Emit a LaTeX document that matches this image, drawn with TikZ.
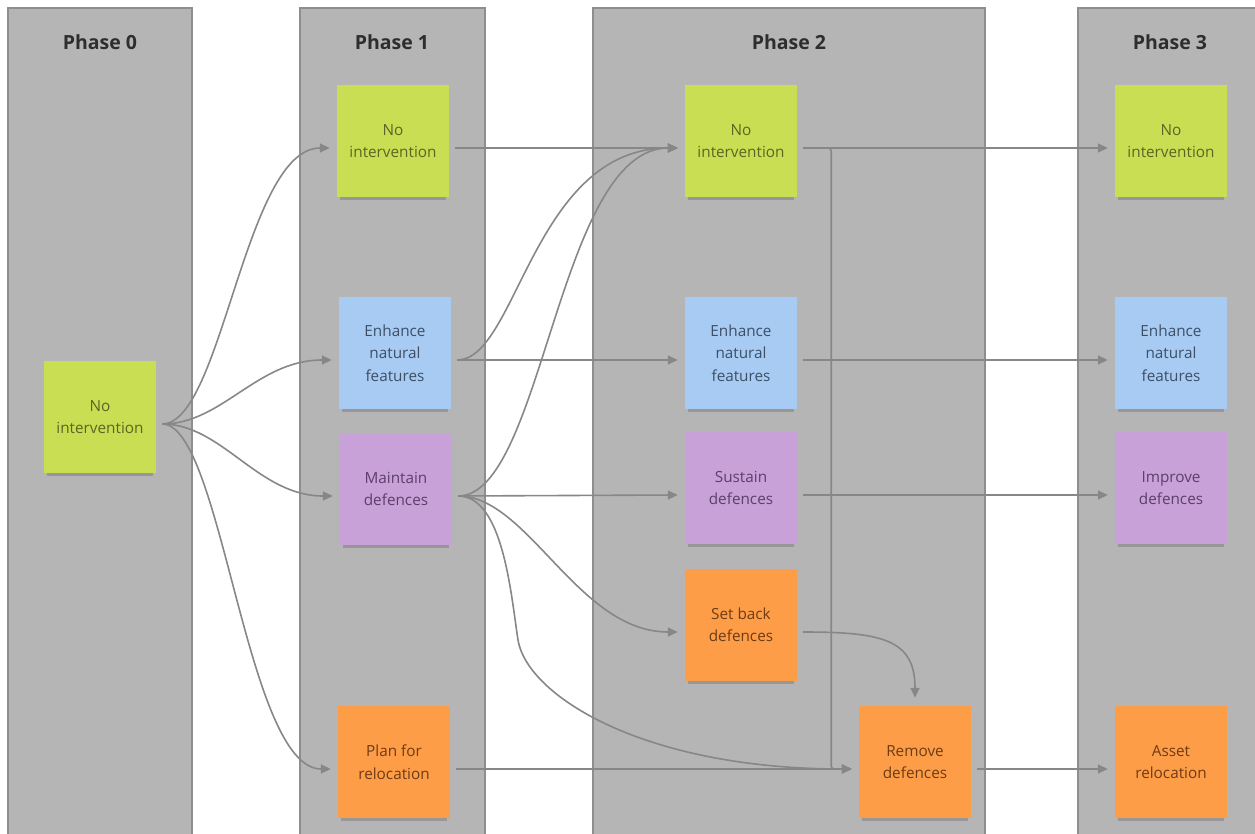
\documentclass[tikz,border=0pt]{standalone}
\usepackage{fontspec}
\setsansfont{Open Sans}
\usepackage{xcolor}
\usepackage{tikz}
\usetikzlibrary{positioning,calc,arrows.meta,shadows}

% Anclas de las flechas (un poco por debajo del centro de cada nota)
\newcommand{\srcpt}[1]{([xshift=6pt,yshift=-7pt]#1.east)}
\newcommand{\dstpt}[1]{([xshift=-7pt,yshift=-7pt]#1.west)}

\begin{document}
\begin{tikzpicture}[
    x=1pt, y=-1pt,
    font=\sffamily,
    phase/.style={draw=phaseline, fill=phasefill, line width=1.6pt},
    title/.style={font=\sffamily\bfseries\fontsize{19.5}{22}\selectfont, text=titletext},
    note/.style={rectangle, minimum width=112pt, minimum height=112pt, inner sep=0pt,
                 align=center, font=\sffamily\fontsize{15.3}{22.5}\selectfont,
                 drop shadow={shadow xshift=0pt, shadow yshift=-6pt,
                              shadow scale=0.95, opacity=0.16, fill=black}},
    gnote/.style={note, fill=notegreen, text=textgreen},
    bnote/.style={note, fill=noteblue, text=textblue},
    pnote/.style={note, fill=notepurple, text=textpurple},
    onote/.style={note, fill=noteorange, text=textorange},
    flow/.style={-{Triangle[length=10pt,width=9pt]}, line width=1.6pt, draw=flowline},
  ]
  \definecolor{phasefill}{HTML}{B5B5B5}
  \definecolor{phaseline}{HTML}{8E8E8E}
  \definecolor{titletext}{HTML}{2E2E2E}
  \definecolor{flowline}{HTML}{878787}
  \definecolor{notegreen}{HTML}{C9DE52}
  \definecolor{textgreen}{HTML}{5A6624}
  \definecolor{noteblue}{HTML}{A7CBF2}
  \definecolor{textblue}{HTML}{3E4F66}
  \definecolor{notepurple}{HTML}{C8A1D8}
  \definecolor{textpurple}{HTML}{5C3F6B}
  \definecolor{noteorange}{HTML}{FE9D48}
  \definecolor{textorange}{HTML}{6E3B14}

  \useasboundingbox (0,0) rectangle (1255,834);

  % ========================= COLUMNAS ========================
  \draw[phase] (8,8) rectangle (192,850);
  \draw[phase] (300,8) rectangle (485,850);
  \draw[phase] (593,8) rectangle (985,850);
  \draw[phase] (1078,8) rectangle (1275,850);
  \node[title] (t0) at (100,42) {Phase 0};
  \node[title] (t1) at (392,42) {Phase 1};
  \node[title] (t2) at (789,42) {Phase 2};
  \node[title] (t3) at (1170,42) {Phase 3};

  % ========================== FASE 0 =========================
  \node[gnote] (a0) at (100,417) {No\\intervention};

  % ========================== FASE 1 =========================
  \node[gnote] (n1) at (393,141) {No\\intervention};
  \node[bnote] (e1) at (395,353) {Enhance\\natural\\features};
  \node[pnote] (m1) at (396,489) {Maintain\\defences};
  \node[onote] (p1) at (394,762) {Plan for\\relocation};

  % ========================== FASE 2 =========================
  \node[gnote] (n2) at (741,141) {No\\intervention};
  \node[bnote] (e2) at (741,353) {Enhance\\natural\\features};
  \node[pnote] (s2) at (741,488) {Sustain\\defences};
  \node[onote] (b2) at (741,625) {Set back\\defences};
  \node[onote] (r2) at (915,762) {Remove\\defences};

  % ========================== FASE 3 =========================
  \node[gnote] (n3) at (1171,141) {No\\intervention};
  \node[bnote] (e3) at (1171,353) {Enhance\\natural\\features};
  \node[pnote] (i3) at (1171,488) {Improve\\defences};
  \node[onote] (a3) at (1171,762) {Asset\\relocation};

  % ========================== FLECHAS ========================
  % Fase 0 -> fase 1
  \draw[flow] \srcpt{a0} .. controls +(60,0) and +(-85,0) .. \dstpt{n1};
  \draw[flow] \srcpt{a0} .. controls +(60,0) and +(-75,0) .. \dstpt{e1};
  \draw[flow] \srcpt{a0} .. controls +(60,0) and +(-75,0) .. \dstpt{m1};
  \draw[flow] \srcpt{a0} .. controls +(60,0) and +(-85,0) .. \dstpt{p1};
  % Fase 1 -> fase 2
  \draw[flow] \srcpt{n1} -- \dstpt{n2};
  \draw[flow] \srcpt{e1} .. controls +(60,0) and +(-145,0) .. \dstpt{n2};
  \draw[flow] \srcpt{e1} -- \dstpt{e2};
  \draw[flow] \srcpt{m1} .. controls +(85,0) and +(-120,0) .. \dstpt{n2};
  \draw[flow] \srcpt{m1} -- \dstpt{s2};
  \draw[flow] \srcpt{m1} .. controls +(70,0) and +(-100,0) .. \dstpt{b2};
  \draw[flow] \srcpt{m1} .. controls +(45,0) and +(-7,-45) .. (518,640)
                         .. controls +(9,55) and +(-210,0) .. \dstpt{r2};
  \draw[flow] \srcpt{p1} -- \dstpt{r2};
  % Fase 2 -> fase 3
  \draw[flow] \srcpt{n2} -- \dstpt{n3};
  \draw[flow, rounded corners=3pt] \srcpt{n2} -- ++(28,0) |- \dstpt{r2};
  \draw[flow] \srcpt{e2} -- \dstpt{e3};
  \draw[flow] \srcpt{s2} -- \dstpt{i3};
  \draw[flow] \srcpt{b2} .. controls +(80,0) and +(0,-58) .. ([yshift=8pt]r2.north);
  \draw[flow] \srcpt{r2} -- \dstpt{a3};
\end{tikzpicture}
\end{document}
